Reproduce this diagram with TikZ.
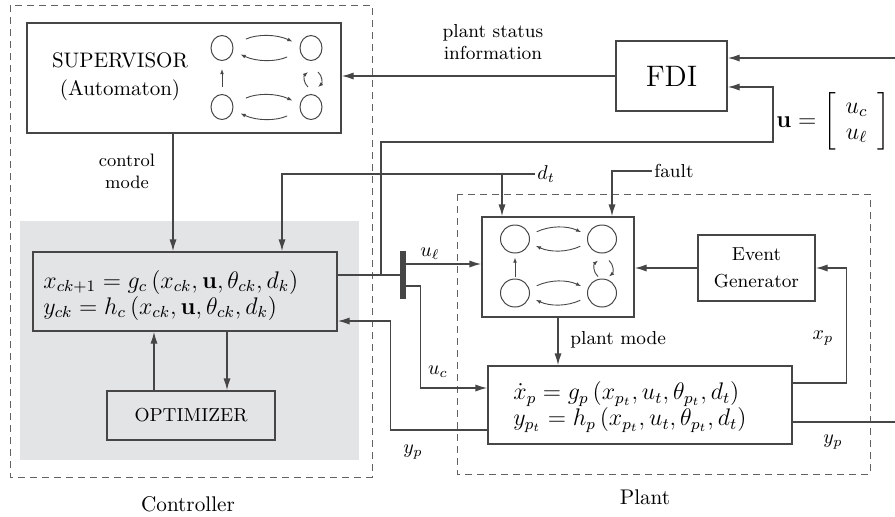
\documentclass[tikz,border=0pt]{standalone}
\usepackage{amsmath}
\usepackage{xcolor}
\usepackage{tikz}
\usetikzlibrary{shapes,arrows,arrows.meta,positioning,calc}

\definecolor{linegray}{HTML}{464646}
\definecolor{panelgray}{HTML}{E3E4E6}

\begin{document}
\begin{tikzpicture}[
    x=0.5pt, y=-0.5pt,
    block/.style={rectangle, draw=linegray, line width=0.7pt, inner sep=0pt},
    modestate/.style={ellipse, draw=linegray, line width=0.5pt, inner sep=0pt, minimum width=11pt, minimum height=12.5pt},
    bigstate/.style={modestate, minimum width=14.5pt, minimum height=14pt},
    arrow/.style={draw=linegray, line width=0.7pt, -{Latex[length=6pt,width=3.6pt]}},
    line/.style={draw=linegray, line width=0.7pt},
    trans/.style={draw=linegray, line width=0.45pt, -{Latex[length=2.6pt,width=1.9pt]}},
    frame/.style={draw=linegray!85, line width=0.5pt, dash pattern=on 3.5pt off 2.5pt},
    lbl/.style={font=\fontsize{9.4}{11}\selectfont, inner sep=1pt},
    mlbl/.style={font=\fontsize{10}{12}\selectfont, inner sep=1pt},
    eq/.style={font=\fontsize{11.8}{13}\selectfont, align=left, inner sep=0pt}
]
\useasboundingbox (0,0) rectangle (895,516);

\fill[panelgray] (20,221) rectangle (359,460);
\draw[frame] (10,5) rectangle (372,477);
\draw[frame] (457,194) rectangle (870,474);
\node[font=\fontsize{10.6}{13}\selectfont] (ctrllbl) at (188,504) {Controller};
\node[font=\fontsize{10.6}{13}\selectfont] (plantlbl) at (645,497) {Plant};

\node[block, minimum width=157pt, minimum height=55pt] (sup) at (184,78) {};
\node[align=center, font=\fontsize{10.5}{14}\selectfont] (suptext) at (120,77) {SUPERVISOR\\(Automaton)};
\node[block, minimum width=55.5pt, minimum height=35pt, font=\fontsize{14.8}{18}\selectfont] (fdi) at (671.5,76) {FDI};
\node[block, minimum width=152pt, minimum height=39.5pt] (ceq) at (185,291.5) {};
\node[eq, anchor=west] (ceqtext) at (43,295) {$x_{ck+1} = g_c\left(x_{ck},\mathbf{u},\theta_{ck},d_k\right)$\\$y_{ck} = h_c\left(x_{ck},\mathbf{u},\theta_{ck},d_k\right)$};
\node[block, minimum width=84pt, minimum height=24.5pt, font=\fontsize{9.4}{12}\selectfont] (opt) at (191,415.5) {OPTIMIZER};
\node[block, minimum width=76pt, minimum height=50pt] (paut) at (558,267) {};
\node[block, minimum width=58.5pt, minimum height=33pt, align=center, font=\fontsize{9.4}{13.5}\selectfont] (evg) at (756.5,268) {Event\\Generator};
\node[block, minimum width=152pt, minimum height=39pt] (peq) at (640,405) {};
\node[eq, anchor=west] (peqtext) at (513,407) {$\dot{x}_p = g_p\left(x_{p_t},u_t,\theta_{p_t},d_t\right)$\\$y_{p_t} = h_p\left(x_{p_t},u_t,\theta_{p_t},d_t\right)$};
\node[rectangle, fill=linegray, minimum width=3pt, minimum height=24pt, inner sep=0pt] (bar) at (403,275) {};

\node[modestate] (sa) at (222,48) {};
\node[modestate] (sb) at (311,48) {};
\node[modestate] (sc) at (222,107) {};
\node[modestate] (sd) at (311,107) {};
\draw[trans, shorten <=7pt, shorten >=4pt] (sa.15) to[bend left=25] (sb.165);
\draw[trans, shorten <=7pt, shorten >=4pt] (sb.195) to[bend left=25] (sa.345);
\draw[trans, shorten <=7pt, shorten >=4pt] (sc.15) to[bend left=25] (sd.165);
\draw[trans, shorten <=7pt, shorten >=4pt] (sd.195) to[bend left=25] (sc.345);
\draw[trans, shorten <=3.5pt, shorten >=4pt] (sc.north) -- (sa.south);
\draw[trans] ($(sb.south)+(-3,26)$) to[bend left=50] ($(sb.south)+(-3,11)$);
\draw[trans] ($(sb.south)+(7,11)$) to[bend left=50] ($(sb.south)+(7,26)$);

\node[bigstate] (pa) at (515,239) {};
\node[bigstate] (pb) at (602,239) {};
\node[bigstate] (pc) at (515,293) {};
\node[bigstate] (pd) at (602,293) {};
\draw[trans, shorten <=4pt, shorten >=3.5pt] (pa.15) to[bend left=25] (pb.165);
\draw[trans, shorten <=4pt, shorten >=3.5pt] (pb.195) to[bend left=25] (pa.345);
\draw[trans, shorten <=4pt, shorten >=3.5pt] (pc.15) to[bend left=25] (pd.165);
\draw[trans, shorten <=4pt, shorten >=3.5pt] (pd.195) to[bend left=25] (pc.345);
\draw[trans, shorten <=1pt, shorten >=2pt] (pc.north) -- (pa.south);
\draw[trans] ($(pb.south)+(-4,23)$) to[bend left=50] ($(pb.south)+(-4,7)$);
\draw[trans] ($(pb.south)+(7,7)$) to[bend left=50] ($(pb.south)+(7,23)$);

\node[lbl, align=center] (pstat) at (493,42) {plant status\\information};
\draw[arrow] (fdi.west) -- (fdi.west -| sup.east);
\coordinate (ypin) at (895,58);
\draw[arrow] (ypin) -- (ypin -| fdi.east);

\node[lbl, align=center, font=\fontsize{9}{11}\selectfont] (cmode) at (127,171) {control\\mode};
\draw[arrow] ([xshift=-5.5pt]sup.south) -- ([xshift=-5.5pt]sup.south |- ceq.north);

\node[mlbl, anchor=west] (dtl) at (535,174) {$d_t$};
\draw[arrow] (dtl.west) -| ([xshift=48.5pt]ceq.north);
\draw[arrow] ([xshift=-28pt]paut.north |- dtl.west) -- ([xshift=-28pt]paut.north);
\node[lbl, anchor=west] (fault) at (652,171) {fault};
\draw[arrow] (fault.west) -| ([xshift=27pt]paut.north);

\draw[line] (ceq.east |- bar.west) -- (bar.west);
\coordinate (ujn) at (381,275);
\coordinate (ubr) at (773,142);
\draw[arrow] (ujn) |- (ubr) |- ([yshift=-5.5pt]fdi.east);
\node[anchor=west, inner sep=0pt, font=\fontsize{11.6}{13}\selectfont] (ulbl) at (776,121) {$\mathbf{u} = \left[\begin{array}{@{\hspace{5pt}}c@{\hspace{5pt}}} u_c\\ u_\ell\end{array}\right]$};

\draw[arrow] ([yshift=5.5pt]bar.east) -- ([yshift=5.5pt]bar.east -| paut.west);
\node[mlbl] (ull) at (430,254) {$u_\ell$};
\draw[arrow] ([yshift=-5.5pt]bar.east) -- ++(14,0) |- ([yshift=8.5pt]peq.west);
\node[mlbl] (ucl) at (438,372) {$u_c$};
\draw[arrow] ([yshift=-12.5pt]peq.west) -- ++(-97,0) |- ([yshift=-14.75pt]ceq.east);
\node[mlbl] (ypl) at (413,452) {$y_p$};

\draw[arrow] ([xshift=-18.5pt]opt.north) -- ([xshift=-18.5pt]opt.north |- ceq.south);
\draw[arrow] ([xshift=18pt]opt.north |- ceq.south) -- ([xshift=18pt]opt.north);

\draw[arrow] (paut.south) -- (paut.south |- peq.north);
\node[lbl, anchor=west] (pmode) at (568,340) {plant mode};
\draw[arrow] (evg.west) -- (evg.west -| paut.east);
\draw[arrow] ([yshift=11pt]peq.east) -- ++(54,0) |- (evg.east);
\node[mlbl] (xpl) at (823,338) {$x_p$};

\coordinate (ypout) at (895,422);
\draw[line] (peq.east |- ypout) -- (ypout);
\node[mlbl] (ypl2) at (833,442) {$y_p$};
\end{tikzpicture}
\end{document}
